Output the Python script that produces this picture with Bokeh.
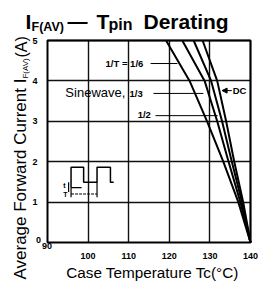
from bokeh.plotting import figure
from bokeh.models import Range1d, Label, FixedTicker, Arrow, NormalHead, Grid
from bokeh.embed import file_html
from bokeh.resources import INLINE

# ---- data ----
current_levels = [5, 4, 3, 2, 1, 0]
tc_duty_1_6 = [119.2, 125.0, 129.3, 133.3, 137.0, 140.0]
tc_sine_1_3 = [123.2, 128.7, 131.8, 134.6, 137.5, 140.0]
tc_duty_1_2 = [126.0, 130.3, 133.0, 135.4, 137.9, 140.0]
tc_dc = [128.2, 131.8, 134.0, 136.0, 138.2, 140.0]
x_ticks = [100, 110, 120, 130, 140]
y_ticks = [1, 2, 3, 4, 5]
x_lim = (90, 140)
y_lim = (0, 5)

# inset waveform sketch (data units)
wave_t = [95.8, 95.8, 98.9, 98.9, 102.2, 102.2, 105.5, 105.5, 106.3]
wave_i = [1.36, 1.86, 1.86, 1.49, 1.49, 1.86, 1.86, 1.49, 1.49]

FONT = "Liberation Sans"
W, H = 260, 281
# plot box in pixels
L, R, T, B = 47, 250, 40, 242
xs = (x_lim[1] - x_lim[0]) / (R - L)
ys = (y_lim[1] - y_lim[0]) / (B - T)
x_range = Range1d(x_lim[0] - L * xs, x_lim[1] + (W - R) * xs)
y_range = Range1d(y_lim[0] - (H - B) * ys, y_lim[1] + T * ys)

p = figure(width=W, height=H, output_backend="svg", toolbar_location=None,
           x_range=x_range, y_range=y_range,
           min_border_left=0, min_border_right=0, min_border_top=0, min_border_bottom=0)
p.background_fill_color = "white"
p.border_fill_color = "white"
p.outline_line_color = None

p.xaxis.fixed_location = y_lim[0]
p.yaxis.fixed_location = x_lim[0]
for ax, ticks in ((p.xaxis[0], x_ticks), (p.yaxis[0], y_ticks)):
    ax.ticker = FixedTicker(ticks=ticks)
    ax.axis_line_color = None
    ax.major_tick_line_color = None
    ax.minor_tick_line_color = None
    ax.major_label_text_font = FONT
    ax.major_label_text_font_style = "bold"
    ax.major_label_text_font_size = "9px"
    ax.major_label_text_color = "black"
    ax.major_label_standoff = 4

if "cross_bounds" in Grid.properties():
    p.xgrid.cross_bounds = y_lim
    p.ygrid.cross_bounds = x_lim
    for g in (p.xgrid[0], p.ygrid[0]):
        g.grid_line_color = "#111111"
        g.grid_line_width = 1.4
else:
    p.xgrid.visible = False
    p.ygrid.visible = False
    p.segment(x0=x_ticks, y0=[y_lim[0]] * len(x_ticks), x1=x_ticks, y1=[y_lim[1]] * len(x_ticks),
              line_color="#111111", line_width=1.4)
    p.segment(x0=[x_lim[0]] * len(y_ticks), y0=y_ticks, x1=[x_lim[1]] * len(y_ticks), y1=y_ticks,
              line_color="#111111", line_width=1.4)

# plot border
p.quad(left=[x_lim[0]], right=[x_lim[1]], bottom=[y_lim[0]], top=[y_lim[1]],
       fill_color=None, line_color="black", line_width=2)

for tc in (tc_duty_1_6, tc_sine_1_3, tc_duty_1_2, tc_dc):
    p.line(tc, current_levels, line_color="black", line_width=2)

# inset waveform
p.line(wave_t, wave_i, line_color="black", line_width=1.5)
p.segment(x0=[95.8, 95.8, 102.2, 95.2], y0=[1.36, 1.12, 1.12, 1.49],
          x1=[98.4, 95.8, 102.2, 95.2], y1=[1.36, 1.36, 1.49, 1.25],
          line_color="black", line_width=1.2)
p.segment(x0=[95.8], y0=[1.2], x1=[102.2], y1=[1.2], line_color="black",
          line_width=1.2, line_dash="3 1")

# leader lines
p.segment(x0=[115.4, 116.1, 116.6], y0=[4.43, 3.69, 3.14],
          x1=[122.0, 128.4, 131.9], y1=[4.43, 3.69, 3.14],
          line_color="black", line_width=1)
p.add_layout(Arrow(end=NormalHead(size=5, fill_color="black", line_color="black"),
                   x_start=135.4, y_start=3.76, x_end=133.0, y_end=3.76,
                   line_color="black", line_width=1))

def lab(text, x, y, size, bold=False, angle=0, baseline="middle", align="left"):
    if baseline == "alphabetic":
        # rendered baseline sits ~0.21em lower than requested; compensate
        shift = 0.21 * size
        if angle:
            x -= shift * xs
        else:
            y += shift * ys
    p.add_layout(Label(x=x, y=y, text=text,
                       text_font=FONT, text_font_size=f"{size}px",
                       text_font_style="bold" if bold else "normal",
                       text_color="black", text_align=align,
                       text_baseline=baseline, angle=angle))

# in-plot annotations
lab("1/T = 1/6", 104.3, 4.43, 9.5, bold=True)
lab("Sinewave,", 94.4, 3.72, 13)
lab("1/3", 110.2, 3.69, 9.5, bold=True)
lab("1/2", 112.2, 3.17, 9.5, bold=True)
lab("DC", 135.6, 3.76, 9.5, bold=True)
lab("t", 93.9, 1.40, 7, bold=True)
lab("T", 93.9, 1.20, 7, bold=True)

# corner tick labels (offset from the others, as in the reference)
lab("0", 88.4, 0.05, 9, bold=True, align="right")
lab("90", 89.9, -0.134, 9, bold=True, baseline="alphabetic", align="center")

# title pieces
lab("I", 84.58, 5.371, 21, bold=True, baseline="alphabetic")
lab("F(AV)", 86.06, 5.272, 12.5, bold=True, baseline="alphabetic")
lab("\u2014", 94.93, 5.371, 20, bold=True, baseline="alphabetic")
lab("T", 102.07, 5.371, 21, bold=True, baseline="alphabetic")
lab("pin", 105.02, 5.322, 16, bold=True, baseline="alphabetic")
lab("Derating", 113.65, 5.371, 21, bold=True, baseline="alphabetic")

# axis titles
lab("Case Temperature  Tc(\u00b0C)", 94.6, -0.817, 15.3, baseline="alphabetic")
lab("Average Forward Current I", 84.33, -0.916, 17, angle=1.5708, baseline="alphabetic")
lab("F(AV)", 85.07, 4.059, 8, angle=1.5708, baseline="alphabetic")
lab("(A)", 84.33, 4.579, 16, angle=1.5708, baseline="alphabetic")

open("out.html", "w").write(file_html(p, INLINE))
